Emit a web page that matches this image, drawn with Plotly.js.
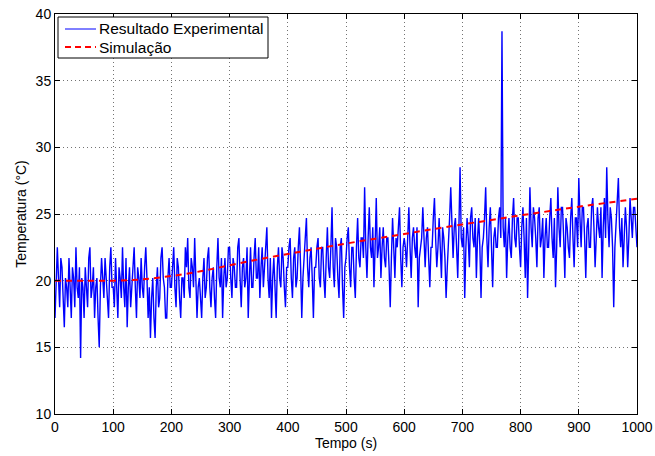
<!DOCTYPE html>
<html>
<head>
<meta charset="utf-8">
<script src="https://cdn.plot.ly/plotly-3.0.1.min.js"></script>
<style>html,body{margin:0;padding:0;background:#fff;}#chart{width:655px;height:456px;}</style>
</head>
<body>
<div id="chart"></div>
<script>
// Experimental series: one reading every 2 s
const expStep = 2;
const expTemp = [
  17.2,19.5, 22.5,20.2, 18.0,21.7, 21.0,18.7, 16.5,20.2, 19.5,18.0, 21.7,19.5, 17.2,21.0, 20.2,18.0, 22.5,19.5, 18.7,21.0, 14.2,20.2, 19.5,17.2, 21.0,19.5, 18.0,21.7, 22.5,18.7, 19.5,21.0, 17.2,19.5, 20.2,17.2, 15.0,19.5, 21.7,20.2, 18.7,21.7, 20.2,18.7, 17.2,21.0, 22.5,19.5,
  19.5,18.0, 21.7,19.5, 17.2,21.0, 20.2,18.7, 22.5,19.5, 18.0,21.7, 16.5,19.5, 21.0,18.0, 19.5,21.7, 22.5,19.5, 17.2,21.0, 20.2,18.7, 21.7,19.5, 18.7,21.0, 22.5,20.2, 17.2,19.5, 15.7,18.7, 20.2,17.2, 15.7,19.5, 21.0,18.0, 18.7,21.7, 22.5,20.2, 19.5,17.2, 17.2,20.2, 21.7,19.5,
  19.5,21.0, 22.5,19.5, 18.0,21.7, 21.0,18.7, 17.2,20.2, 20.2,18.7, 22.5,21.0, 23.2,19.5, 18.7,21.7, 21.0,19.5, 23.2,20.2, 17.2,19.5, 20.2,18.7, 17.2,20.2, 21.7,18.7, 19.5,21.7, 22.5,19.5, 18.0,20.2, 21.0,18.7, 17.2,21.0, 23.2,20.2, 19.5,21.7, 17.2,20.2, 21.7,19.5, 20.2,22.5,
  22.5,20.2, 18.7,21.7, 21.0,19.5, 19.5,22.5, 23.2,20.2, 18.0,21.0, 21.7,19.5, 20.2,22.5, 17.2,20.2, 22.5,19.5, 19.5,21.7, 23.2,20.2, 20.2,22.5, 18.7,21.0, 22.5,19.5, 21.0,22.5, 24.0,20.2, 18.7,21.7, 17.2,20.2, 21.7,19.5, 17.2,21.0, 22.5,20.2, 19.5,22.5, 21.7,19.5, 18.0,21.0,
  21.0,22.5, 23.2,20.2, 18.7,21.7, 22.5,19.5, 20.2,22.5, 24.0,21.0, 17.2,20.2, 21.7,23.2, 24.7,21.0, 19.5,21.7, 22.5,20.2, 17.2,21.0, 21.0,22.5, 23.2,20.2, 19.5,22.5, 22.5,20.2, 18.7,21.7, 24.0,21.0, 20.2,22.5, 25.5,21.0, 19.5,23.2, 22.5,20.2, 18.7,22.5, 23.2,19.5, 17.2,21.0,
  21.7,23.2, 24.0,21.0, 19.5,22.5, 22.5,20.2, 18.7,22.5, 24.7,21.7, 21.0,23.2, 23.2,21.7, 27.0,22.5, 20.2,23.2, 25.5,22.5, 21.7,24.0, 19.5,22.5, 26.2,21.7, 22.5,24.0, 20.2,22.5, 24.0,21.7, 21.0,23.2, 23.2,21.0, 18.0,21.7, 24.7,22.5, 20.2,23.2, 22.5,24.0, 25.5,21.7, 19.5,22.5,
  23.2,22.5, 21.0,23.2, 25.5,22.5, 20.2,23.2, 24.0,22.5, 21.7,24.0, 18.0,21.7, 22.5,23.2, 25.5,22.5, 21.0,23.2, 24.0,21.7, 19.5,22.5, 22.5,24.7, 26.2,23.2, 21.0,22.5, 24.7,22.5, 20.2,24.0, 23.2,21.7, 18.7,21.0, 22.5,24.7, 27.0,23.2, 21.7,24.0, 24.7,22.5, 20.2,24.0, 28.5,23.2,
  22.5,24.0, 18.7,22.5, 24.7,23.2, 21.0,24.7, 25.5,23.2, 22.5,24.7, 20.2,23.2, 24.7,22.5, 18.7,22.5, 23.2,24.7, 27.0,23.2, 21.0,24.0, 25.5,22.5, 19.5,23.2, 24.0,22.5, 22.5,24.7, 25.5,23.2, 38.7,24.0, 22.5,24.7, 20.2,23.2, 24.7,22.5, 21.7,24.7, 26.2,23.2, 22.5,24.7, 24.7,22.5,
  21.0,24.0, 25.5,23.2, 20.2,24.7, 18.7,22.5, 27.0,24.0, 22.5,25.5, 24.7,23.2, 21.0,24.7, 25.5,22.5, 23.2,24.7, 20.2,23.2, 24.7,22.5, 22.5,24.7, 26.2,23.2, 21.7,24.7, 19.5,22.5, 27.0,24.0, 22.5,25.5, 25.5,23.2, 20.2,24.7, 24.0,22.5, 21.7,24.7, 26.2,23.2, 21.0,24.7, 24.7,22.5,
  27.7,24.7, 22.5,25.5, 25.5,23.2, 20.2,24.0, 24.7,22.5, 22.5,25.5, 26.2,24.0, 21.0,23.2, 25.5,24.0, 23.2,25.5, 20.2,24.0, 26.2,23.2, 28.5,24.7, 22.5,25.5, 24.7,22.5, 18.0,22.5, 24.0,25.5, 27.7,24.0, 22.5,24.7, 21.0,23.2, 25.5,24.0, 21.0,23.2, 26.2,24.7, 23.2,25.5, 25.5,24.0,
  22.5
];
const expTime = expTemp.map((_, i) => i * expStep);

// Simulation series
const simTime = [0, 50, 100, 150, 200, 250, 300, 350, 400, 450, 500, 550, 600, 650, 700, 750, 800, 850, 900, 950, 1000];
const simTemp = [20.0, 20.0, 20.0, 20.1, 20.35, 20.7, 21.15, 21.6, 22.0, 22.4, 22.78, 23.15, 23.5, 23.87, 24.22, 24.55, 24.9, 25.22, 25.55, 25.85, 26.15];

const xTicks = [0, 100, 200, 300, 400, 500, 600, 700, 800, 900, 1000];
const yTicks = [10, 15, 20, 25, 30, 35, 40];
const seriesNames = ['Resultado Experimental', 'Simulação'];
const seriesColors = ['#0000FF', '#FF0000'];

const fam = 'Liberation Sans, Arial, Helvetica, sans-serif';
const font = {family: fam, size: 14, color: '#000'};

const traces = [
  {x: expTime, y: expTemp, type: 'scatter', mode: 'lines', name: seriesNames[0],
   line: {color: seriesColors[0], width: 1.4}, showlegend: false},
  {x: simTime, y: simTemp, type: 'scatter', mode: 'lines', name: seriesNames[1],
   line: {color: seriesColors[1], width: 2, dash: '6px,5px', shape: 'spline'}, showlegend: false}
];

const axisCommon = {
  showline: true, linecolor: '#000', linewidth: 1, mirror: 'ticks',
  ticks: 'inside', ticklen: 5, tickcolor: '#000', tickwidth: 1,
  showgrid: true, gridcolor: 'rgba(0,0,0,0.55)', griddash: '1px,3px', gridwidth: 1,
  zeroline: false, tickfont: font
};

// legend box drawn in pixel-like paper coordinates
const W = 655, H = 456, mL = 55, mR = 18, mT = 14, mB = 42;
const pw = W - mL - mR, ph = H - mT - mB;
const px = v => (v - mL) / pw;
const py = v => (H - mB - v) / ph;

const shapes = [
  {type: 'rect', xref: 'paper', yref: 'paper', x0: px(58), x1: px(268), y0: py(58), y1: py(17),
   line: {color: '#000', width: 1}, fillcolor: '#fff', layer: 'above'},
  {type: 'line', xref: 'paper', yref: 'paper', x0: px(65), x1: px(96), y0: py(29), y1: py(29),
   line: {color: seriesColors[0], width: 1}, layer: 'above'},
  {type: 'line', xref: 'paper', yref: 'paper', x0: px(65), x1: px(96), y0: py(47), y1: py(47),
   line: {color: seriesColors[1], width: 2, dash: '6px,4px'}, layer: 'above'}
];
const annotations = seriesNames.map((n, i) => ({
  xref: 'paper', yref: 'paper', x: px(97), y: py(i === 0 ? 29 : 47), xanchor: 'left', yanchor: 'middle',
  text: n, showarrow: false, font: {family: fam, size: 15.5, color: '#000'}
}));

const layout = {
  width: W, height: H,
  margin: {l: mL, r: mR, t: mT, b: mB},
  paper_bgcolor: '#fff', plot_bgcolor: '#fff',
  font: font,
  showlegend: false,
  shapes: shapes,
  annotations: annotations,
  xaxis: Object.assign({}, axisCommon, {range: [0, 1000], tickvals: xTicks, ticktext: xTicks.map(String),
           title: {text: 'Tempo (s)', font: font, standoff: 2}}),
  yaxis: Object.assign({}, axisCommon, {range: [10, 40], tickvals: yTicks, ticktext: yTicks.map(String),
           title: {text: 'Temperatura (°C)', font: font, standoff: 5}})
};

Plotly.newPlot('chart', traces, layout, {displayModeBar: false, staticPlot: true});
</script>
</body>
</html>
